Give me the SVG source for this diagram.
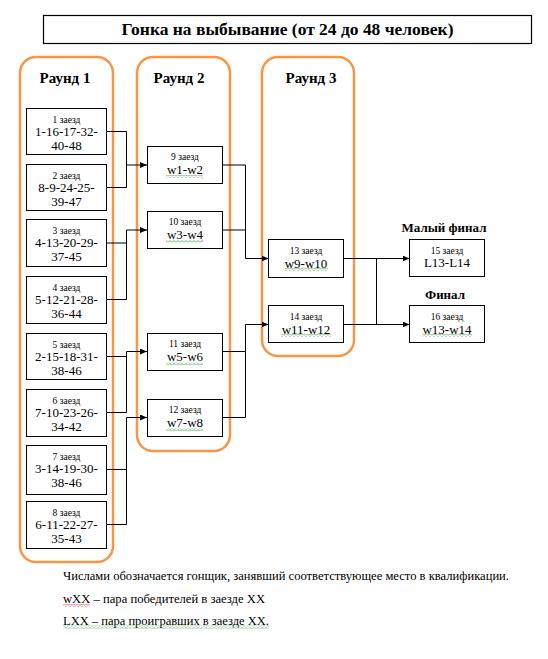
<svg xmlns="http://www.w3.org/2000/svg" width="548" height="659" viewBox="0 0 548 659">
<style>
.round{fill:none;stroke:#F79646;stroke-width:2.5}
.box{fill:#fff;stroke:#000;stroke-width:1}
.t{font-family:"Liberation Serif","Times New Roman",serif;fill:#000;text-anchor:middle}
.s{font-size:9.5px}
.l{font-size:13px}
.m{font-size:13px}
.b{font-weight:bold}
.st{text-anchor:start;font-size:12px}
.wire{fill:none;stroke:#000;stroke-width:1}
.sqg{fill:url(#sqg)}
.sqr{fill:url(#sqr)}
</style>
<defs>
<marker id="arr" markerWidth="7" markerHeight="6" refX="7" refY="3" orient="auto" markerUnits="userSpaceOnUse"><path d="M0,0 L7,3 L0,6 z" fill="#000"/></marker>
<pattern id="sqg" width="4" height="3" patternUnits="userSpaceOnUse"><path d="M0,2.5 L2,0.5 L4,2.5" fill="none" stroke="#2E9A2E" stroke-width="0.8"/></pattern>
<pattern id="sqr" width="4" height="3" patternUnits="userSpaceOnUse"><path d="M0,2.5 L2,0.5 L4,2.5" fill="none" stroke="#E02020" stroke-width="0.8"/></pattern>
</defs>
<rect width="548" height="659" fill="#fff"/>

<g id="title">
<rect x="43.5" y="15.5" width="488" height="28" fill="#fff" stroke="#000" stroke-width="1.2"/>
<text class="t b" x="287.5" y="34.5" font-size="17" textLength="332" lengthAdjust="spacingAndGlyphs">Гонка на выбывание (от 24 до 48 человек)</text>
</g>

<g id="round1"><rect class="round" x="20" y="57" width="93" height="505" rx="16"/><text class="t b" x="65" y="83" font-size="15">Раунд 1</text></g>
<g id="round2"><rect class="round" x="137" y="57" width="93" height="394" rx="16"/><text class="t b" x="179" y="83" font-size="15">Раунд 2</text></g>
<g id="round3"><rect class="round" x="262" y="57" width="92" height="299" rx="16"/><text class="t b" x="311" y="83" font-size="15">Раунд 3</text></g>

<g id="connectors">
<path class="wire" d="M107,131.5 H126.5 V187.5 H107"/>
<path class="wire" d="M126.5,165 H147" marker-end="url(#arr)"/>
<path class="wire" d="M107,243 H126.5"/>
<path class="wire" d="M107,299.5 H126.5 V230 H147" marker-end="url(#arr)"/>
<path class="wire" d="M107,356.5 H126.5"/>
<path class="wire" d="M107,412.5 H126.5 V351.5 H147" marker-end="url(#arr)"/>
<path class="wire" d="M107,469.5 H126.5"/>
<path class="wire" d="M107,524.5 H126.5 V417.5 H147" marker-end="url(#arr)"/>
<path class="wire" d="M222,230 H245.5"/>
<path class="wire" d="M222,165 H245.5 V258.5 H268.5" marker-end="url(#arr)"/>
<path class="wire" d="M222,417.5 H245.5 V351.5"/>
<path class="wire" d="M222,351.5 H245.5 V324.5 H268.5" marker-end="url(#arr)"/>
<path class="wire" d="M376.5,258.5 V324.5"/>
<path class="wire" d="M343.5,258.5 H409.5" marker-end="url(#arr)"/>
<path class="wire" d="M343.5,324.5 H409.5" marker-end="url(#arr)"/>
</g>

<g id="heat1"><rect class="box" x="26.5" y="108.5" width="80" height="46"/><text class="t s" x="66.5" y="122.5">1 заезд</text><text class="t l" x="66.5" y="136">1-16-17-32-</text><text class="t l" x="66.5" y="150">40-48</text></g>
<g id="heat2"><rect class="box" x="26.5" y="164.5" width="80" height="46"/><text class="t s" x="66.5" y="178.5">2 заезд</text><text class="t l" x="66.5" y="192">8-9-24-25-</text><text class="t l" x="66.5" y="206">39-47</text></g>
<g id="heat3"><rect class="box" x="26.5" y="219.5" width="80" height="47"/><text class="t s" x="66.5" y="233.5">3 заезд</text><text class="t l" x="66.5" y="247">4-13-20-29-</text><text class="t l" x="66.5" y="261">37-45</text></g>
<g id="heat4"><rect class="box" x="26.5" y="276.5" width="80" height="47"/><text class="t s" x="66.5" y="290.5">4 заезд</text><text class="t l" x="66.5" y="304">5-12-21-28-</text><text class="t l" x="66.5" y="318">36-44</text></g>
<g id="heat5"><rect class="box" x="26.5" y="333.5" width="80" height="46"/><text class="t s" x="66.5" y="347.5">5 заезд</text><text class="t l" x="66.5" y="361">2-15-18-31-</text><text class="t l" x="66.5" y="375">38-46</text></g>
<g id="heat6"><rect class="box" x="26.5" y="389.5" width="80" height="47"/><text class="t s" x="66.5" y="403.5">6 заезд</text><text class="t l" x="66.5" y="417">7-10-23-26-</text><text class="t l" x="66.5" y="431">34-42</text></g>
<g id="heat7"><rect class="box" x="26.5" y="445.5" width="80" height="49"/><text class="t s" x="66.5" y="459.5">7 заезд</text><text class="t l" x="66.5" y="473">3-14-19-30-</text><text class="t l" x="66.5" y="487">38-46</text></g>
<g id="heat8"><rect class="box" x="26.5" y="501.5" width="80" height="47"/><text class="t s" x="66.5" y="515.5">8 заезд</text><text class="t l" x="66.5" y="529">6-11-22-27-</text><text class="t l" x="66.5" y="543">35-43</text></g>

<g id="heat9"><rect class="box" x="147.5" y="146.5" width="75" height="37"/><text class="t s" x="185" y="159.5">9 заезд</text><text class="t m" x="185" y="174">w1-w2</text><rect class="sqg" x="166" y="175" width="37" height="3"/></g>
<g id="heat10"><rect class="box" x="147.5" y="211.5" width="75" height="37"/><text class="t s" x="185" y="224.5">10 заезд</text><text class="t m" x="185" y="239">w3-w4</text><rect class="sqg" x="166" y="240" width="37" height="3"/></g>
<g id="heat11"><rect class="box" x="147.5" y="333.5" width="75" height="37"/><text class="t s" x="185" y="346.5">11 заезд</text><text class="t m" x="185" y="361">w5-w6</text><rect class="sqg" x="166" y="362" width="37" height="3"/></g>
<g id="heat12"><rect class="box" x="147.5" y="399.5" width="75" height="37"/><text class="t s" x="185" y="412.5">12 заезд</text><text class="t m" x="185" y="427">w7-w8</text><rect class="sqg" x="166" y="428" width="37" height="3"/></g>

<g id="heat13"><rect class="box" x="268.5" y="239.5" width="75" height="38"/><text class="t s" x="306" y="253.5">13 заезд</text><text class="t m" x="306" y="267.5">w9-w10</text><rect class="sqg" x="285" y="268" width="43" height="3"/></g>
<g id="heat14"><rect class="box" x="268.5" y="305.5" width="75" height="37"/><text class="t s" x="306" y="319.5">14 заезд</text><text class="t m" x="306" y="333.5">w11-w12</text><rect class="sqg" x="281" y="334" width="50" height="3"/></g>

<g id="heat15"><text class="t b" x="444" y="232" font-size="13">Малый финал</text><rect class="box" x="409.5" y="239.5" width="75" height="37"/><text class="t s" x="447" y="253.5">15 заезд</text><text class="t m" x="447" y="267">L13-L14</text></g>
<g id="heat16"><text class="t b" x="445" y="298.5" font-size="13">Финал</text><rect class="box" x="409.5" y="305.5" width="75" height="37"/><text class="t s" x="447" y="319.5">16 заезд</text><text class="t m" x="447" y="333.5">w13-w14</text><rect class="sqg" x="422" y="334" width="50" height="3"/></g>

<g id="legend">
<text class="t st" x="63" y="580" textLength="446" lengthAdjust="spacingAndGlyphs">Числами обозначается гонщик, занявший соответствующее место в квалификации.</text>
<text class="t st" x="63" y="603" textLength="202" lengthAdjust="spacingAndGlyphs">wXX – пара победителей в заезде XX</text>
<rect class="sqr" x="63" y="604" width="27" height="3"/>
<text class="t st" x="63" y="624.5" textLength="206" lengthAdjust="spacingAndGlyphs">LXX – пара проигравших в заезде XX.</text>
<rect class="sqg" x="63" y="625.5" width="206" height="3"/>
</g>
</svg>
